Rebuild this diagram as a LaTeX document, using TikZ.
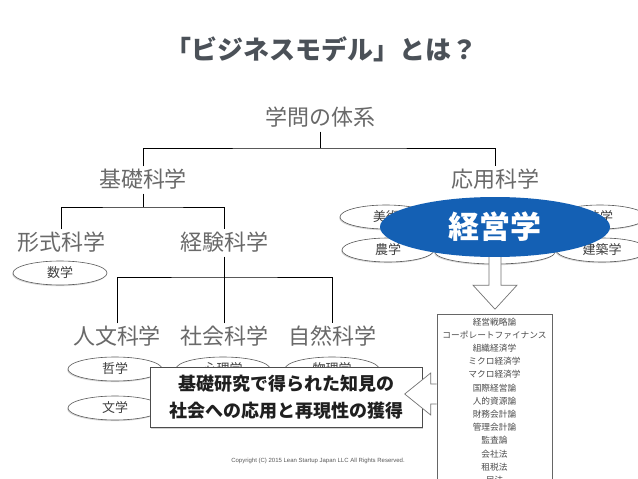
\documentclass[tikz,border=0pt]{standalone}
\usepackage{fontspec}
\newfontfamily\jpfont{Noto Sans CJK JP}
\newfontfamily\copyfont{Liberation Sans}
\usepackage{tikz}
\usetikzlibrary{calc,shapes.geometric,shadows}

\definecolor{titlegray}{RGB}{75,81,88}
\definecolor{fieldgray}{RGB}{105,105,105}
\definecolor{keieiblue}{RGB}{20,96,180}

\tikzset{
  tree/.style={line width=0.8pt, black},
  field/.style={font=\jpfont\fontsize{22}{22}\selectfont, text=fieldgray,
    inner sep=3pt, text height=18pt, text depth=3pt},
  subject/.style={ellipse, draw=black!65, fill=white, line width=0.6pt,
    minimum width=94pt, minimum height=24pt, inner sep=0pt,
    font=\jpfont\fontsize{13}{13}\selectfont, text=black!75,
    drop shadow={shadow xshift=-0.8pt, shadow yshift=-1.2pt, opacity=0.3}},
  blockarrow/.style={draw=black!55, fill=white, line width=0.7pt, line join=miter},
  listbox/.style={draw=black!60, fill=white, line width=0.6pt, minimum width=115pt,
    align=center, inner xsep=2pt, inner ysep=3.5pt,
    font=\jpfont\fontsize{8.7}{13.2}\selectfont, text=black!70},
  findings/.style={draw=black!70, fill=white, line width=0.7pt,
    minimum width=272pt, minimum height=60pt, align=center,
    font=\jpfont\bfseries\fontsize{18}{27}\selectfont, text=black!88,
    drop shadow={shadow xshift=1pt, shadow yshift=-1.5pt, opacity=0.35}},
}

\begin{document}
\begin{tikzpicture}[x=1pt,y=-1pt]
\clip (0,0) rectangle (638,479);
\fill[white] (0,0) rectangle (638,479);

% Title
\node[font=\jpfont\bfseries\fontsize{26}{26}\selectfont, text=titlegray] (title) at (321,49) {「ビジネスモデル」とは？};

% Tree of fields
\node[field] (taikei)   at (320,118) {学問の体系};
\node[field] (kiso)     at (143,180) {基礎科学};
\node[field] (oyo)      at (495,180) {応用科学};
\node[field] (keishiki) at (61,243)  {形式科学};
\node[field] (keiken)   at (224,243) {経験科学};
\node[field] (jinbun)   at (117,337) {人文科学};
\node[field] (shakai)   at (224,337) {社会科学};
\node[field] (shizen)   at (332,337) {自然科学};

\coordinate (j0) at (320,148);
\coordinate (j1) at (143,207);
\coordinate (j2) at (224,277);

\draw[tree] (taikei) -- (j0);
\draw[tree] (kiso) |- (j0) -| (oyo);
\draw[tree] (kiso) -- (j1);
\draw[tree] (keishiki) |- (j1) -| (keiken);
\draw[tree] (keiken) -- (j2);
\draw[tree] (jinbun) |- (j2) -| (shizen);
\draw[tree] (shakai) -- (j2);

% Basic sciences
\node[subject] (sugaku)   at (60,273)  {数学};
\node[subject] (tetsugaku) at (115,369) {哲学};
\node[subject] (bungaku)  at (115,408) {文学};
\node[subject] (shinri)   at (223,369) {心理学};
\node[subject] (butsuri)  at (332,369) {物理学};

% Applied sciences
\node[subject, minimum width=92pt] (bijutsu)  at (386,217) {美術};
\node[subject, minimum width=92pt] (nogaku)   at (388,250) {農学};
\node[subject, minimum width=92pt] (hogaku)   at (600,217) {法学};
\node[subject, minimum width=92pt] (kenchiku) at (602,250) {建築学};
\node[subject, minimum width=120pt] (naka)    at (495,252) {};

\node[ellipse, fill=keieiblue, minimum width=230pt, minimum height=60pt,
  text=white, font=\jpfont\bfseries\fontsize{31}{31}\selectfont] (keiei) at (495,227) {経営学};

% List of subjects
\node[listbox, anchor=north] (liste) at (494.5,314) {経営戦略論\\コーポレートファイナンス\\組織経済学\\ミクロ経済学\\マクロ経済学\\国際経営論\\人的資源論\\財務会計論\\管理会計論\\監査論\\会社法\\租税法\\民法};

\filldraw[blockarrow] ($(keiei.south)+(-6,0)$) -- ++(0,28) -- ++(-16,0) -- ++(22,24) -- ++(22,-24) -- ++(-16,0) -- ++(0,-28);

% Findings
\node[findings] (kenkyu) at (286,397) {基礎研究で得られた知見の\\社会への応用と再現性の獲得};

\coordinate (a) at ($(liste.north west)+(0,80)$);
\filldraw[blockarrow] ($(a)+(0,-10)$) -- ++(-6,0) -- ++(0,-11) -- ++(-26,21) -- ++(26,21) -- ++(0,-11) -- ++(6,0);

\node[font=\copyfont\fontsize{6}{6}\selectfont, text=black!65] (copy) at (318,461) {Copyright (C) 2015 Lean Startup Japan LLC All Rights Reserved.};
\end{tikzpicture}
\end{document}
